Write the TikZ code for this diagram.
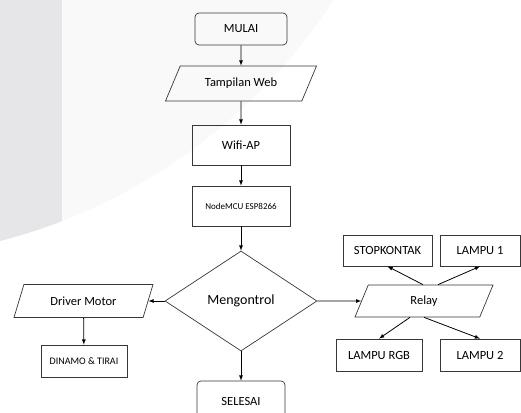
\documentclass[tikz,border=0pt]{standalone}
\usepackage{fontspec}
\setmainfont{Carlito}
\usetikzlibrary{shapes.geometric}
\definecolor{stripgray}{RGB}{230,230,232}
\definecolor{pale}{RGB}{249,249,249}
\definecolor{linegray}{RGB}{55,55,55}

\begin{document}
\begin{tikzpicture}[x=1pt, y=-1pt]

\useasboundingbox (0,0) rectangle (521,412);
\clip (0,0) rectangle (521,412);

\fill[pale] (-142,-307) circle (566pt);
\begin{scope}
\clip (-142,-307) circle (566pt);
\fill[stripgray] (0,0) rectangle (62,300);
\end{scope}

\tikzset{every node/.style={draw=linegray, line width=0.7pt, inner sep=2pt, font=\fontsize{12.5}{14}\selectfont}}
\tikzset{terminal/.style={rectangle, rounded corners=4pt, minimum height=32pt}}
\tikzset{proses/.style={rectangle, minimum height=32pt}}
\tikzset{io/.style={trapezium, trapezium stretches body}}
\node [terminal, minimum width=92pt] (mulai) at (241,29) {MULAI};
\node [io, trapezium left angle=45, trapezium right angle=135, minimum width=151pt, minimum height=35pt] (tampil) at (241,83.5) {Tampilan Web};
\node [proses, minimum width=98pt, minimum height=40pt] (wifi) at (241,145) {Wifi-AP};
\node [proses, minimum width=98pt, minimum height=40pt, font=\fontsize{9}{11}\selectfont] (mcu) at (241,206) {NodeMCU ESP8266};
\node [diamond, minimum width=152pt, minimum height=100pt, font=\fontsize{14}{16}\selectfont] (kontrol) at (241,301) {Mengontrol};
\node [terminal, minimum width=88pt, minimum height=40pt] (selesai) at (241,401) {SELESAI};
\node [io, trapezium left angle=52, trapezium right angle=128, minimum width=139pt, minimum height=33pt] (driver) at (83.5,301) {Driver Motor};
\node [proses, minimum width=86pt, font=\fontsize{10}{12}\selectfont] (dinamo) at (84,361) {DINAMO \& TIRAI};
\node [io, trapezium left angle=48, trapezium right angle=132, minimum width=138pt, minimum height=32pt] (relay) at (424,301) {Relay};
\node [proses, minimum width=89pt, minimum height=31pt] (stop) at (387.5,250.5) {STOPKONTAK};
\node [proses, minimum width=80pt, minimum height=31pt] (lampu1) at (480,250.5) {LAMPU 1};
\node [proses, minimum width=86pt] (rgb) at (379,355) {LAMPU RGB};
\node [proses, minimum width=80pt] (lampu2) at (480,355) {LAMPU 2};

\tikzset{every node/.style={}}
\tikzset{panah/.style={-latex, line width=0.8pt}}
\path (mulai) edge [panah] (tampil);
\path (tampil) edge [panah] (wifi);
\path (wifi) edge [panah] (mcu);
\path (mcu) edge [panah] (kontrol);
\path (kontrol) edge [panah] (selesai);
\path (kontrol) edge [panah] (driver);
\path (driver) edge [panah] (dinamo);
\path (kontrol) edge [panah] (relay);
\path ([xshift=-1pt]relay.north) edge [panah] (stop.south);
\path ([xshift=14pt]relay.north) edge [panah] (lampu1.south);
\path ([xshift=-14pt]relay.south) edge [panah] (rgb.north);
\path (relay.south) edge [panah] (lampu2.north);
\end{tikzpicture}
\end{document}
